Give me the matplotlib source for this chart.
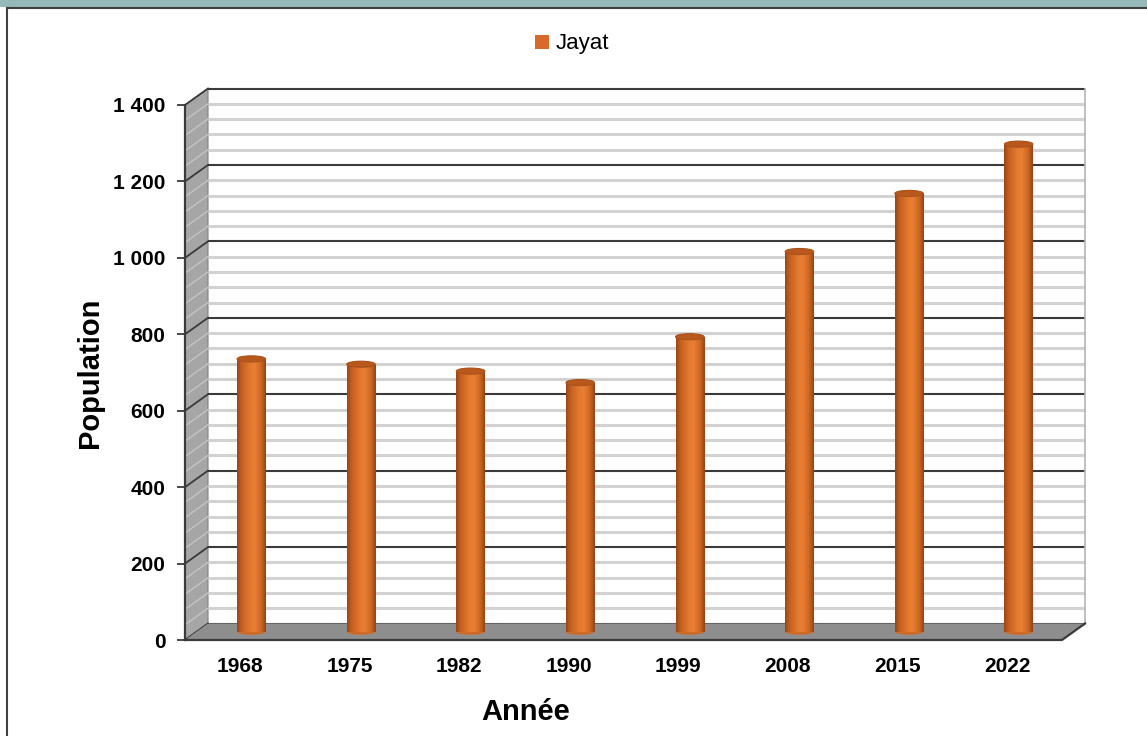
import numpy as np
import matplotlib.pyplot as plt
import matplotlib.transforms as mtrans
from matplotlib.patches import Polygon, Ellipse, Rectangle, Patch
from matplotlib.colors import LinearSegmentedColormap
from matplotlib.lines import Line2D

plt.rcParams['font.family'] = ['Liberation Sans', 'DejaVu Sans']

# data
years = ['1968', '1975', '1982', '1990', '1999', '2008', '2015', '2022']
population = [714, 700, 682, 652, 772, 995, 1147, 1276]
series_name = 'Jayat'
y_ticks = [0, 200, 400, 600, 800, 1000, 1200, 1400]
y_tick_labels = ['0', '200', '400', '600', '800', '1 000', '1 200', '1 400']

W, H = 1147, 736
fig = plt.figure(figsize=(W / 100, H / 100), dpi=100)
ax = fig.add_axes([185 / W, 96 / H, 877 / W, 535 / H])
ax.set_facecolor('none')

# depth of the fake 3D box (pixels -> data units)
depth_px = (23, 16.5)
DX = depth_px[0] / (877 / len(years))
DY = depth_px[1] / (535 / 1400)
x0, x1 = -0.5, len(years) - 0.5

# back wall and its grid
ax.add_patch(Polygon([(x0 + DX, DY), (x1 + DX, DY), (x1 + DX, 1400 + DY), (x0 + DX, 1400 + DY)],
                     closed=True, fc='white', ec='none', zorder=0.5, clip_on=False))
# left side wall
ax.add_patch(Polygon([(x0, 0), (x0, 1400), (x0 + DX, 1400 + DY), (x0 + DX, DY)],
                     closed=True, fc='#a6a6a6', ec='#808080', lw=0.8, zorder=0.6, clip_on=False))
for v in np.arange(0, 1401, 40):
    major = v % 200 == 0
    col = '#3a3a3a' if major else '#d2d2d2'
    lw = 1.5 if major else 2.2
    ax.plot([x0 + DX, x1 + DX], [v + DY, v + DY], color=col, lw=lw, zorder=1.5 if major else 1,
            clip_on=False, solid_capstyle='butt')
    ax.plot([x0, x0 + DX], [v, v + DY], color='#3a3a3a' if major else '#c4c4c4',
            lw=1.3 if major else 1.0, zorder=1.6, clip_on=False)
ax.plot([x1 + DX, x1 + DX], [DY, 1400 + DY], color='#b5b5b5', lw=1.2, zorder=1.7, clip_on=False)

# floor
ax.add_patch(Polygon([(x0, 0), (x1, 0), (x1 + DX, DY), (x0 + DX, DY)],
                     closed=True, fc='#8e8e8e', ec='none', zorder=3, clip_on=False))
ax.plot([x0, x1, x1 + DX], [0, 0, DY], color='#3a3a3a', lw=1.6, zorder=3.5, clip_on=False)

# cylinders, placed in the middle of the depth
trans = ax.transData + mtrans.ScaledTranslation(depth_px[0] / 200, depth_px[1] / 200,
                                                fig.dpi_scale_trans)
cyl_cmap = LinearSegmentedColormap.from_list('cyl', [
    (0.0, '#984516'), (0.15, '#c25f1f'), (0.45, '#e4792f'),
    (0.62, '#e97e35'), (0.85, '#c9641f'), (1.0, '#91431a')])
grad = np.linspace(0, 1, 256).reshape(1, -1)
bar_w = 0.26
xs = np.arange(len(years))
bars = ax.bar(xs, population, width=bar_w, transform=trans, color='none', zorder=6)
for x, v, b in zip(xs, population, bars):
    ax.add_patch(Ellipse((x, 0), bar_w, 16, transform=trans, fc='#cf6a26', ec='none', zorder=5.5))
    im = ax.imshow(grad, cmap=cyl_cmap, extent=[x - bar_w / 2, x + bar_w / 2, 0, v],
                   transform=trans, aspect='auto', zorder=6, interpolation='bilinear')
    im.set_clip_path(b)
    ax.add_patch(Ellipse((x, v), bar_w, 16, transform=trans, fc='#b9581c', ec='#a9521c',
                         lw=0.8, zorder=7))

ax.set_xlim(x0, x1)
ax.set_ylim(0, 1400)

# axes, ticks
for s in ['top', 'right', 'bottom']:
    ax.spines[s].set_visible(False)
ax.spines['left'].set_color('#3a3a3a')
ax.spines['left'].set_linewidth(1.6)
ax.spines['left'].set_zorder(4)
ax.set_xticks(xs, years, fontsize=15, fontweight='bold')
ax.set_yticks(y_ticks, y_tick_labels, fontsize=15, fontweight='bold')
ax.tick_params(axis='x', length=0, pad=12)
ax.tick_params(axis='y', length=6, width=1.3, color='#3a3a3a', pad=8)

fig.text(526 / W, 1 - 712 / H, 'Année', ha='center', va='center', fontsize=21, fontweight='bold')
fig.text(90 / W, 1 - 373 / H, 'Population', ha='center', va='center', rotation=90,
         fontsize=21, fontweight='bold')

fig.legend(handles=[Patch(fc='#d8692a', ec='none')], labels=[series_name], loc='center',
           bbox_to_anchor=(572 / W, 1 - 44 / H), frameon=False, fontsize=16,
           handlelength=0.6, handleheight=0.6, handletextpad=0.3)

# outer frame
fig.add_artist(Rectangle((0, 1 - 7 / H), 1, 7 / H, transform=fig.transFigure,
                         fc='#95b8ba', ec='none'))
fig.add_artist(Line2D([7.5 / W, 1], [1 - 8 / H, 1 - 8 / H], transform=fig.transFigure,
                      color='#404040', lw=1.5))
fig.add_artist(Line2D([7.5 / W, 7.5 / W], [0, 1 - 8 / H], transform=fig.transFigure,
                      color='#404040', lw=1.5))

fig.savefig('out.png', dpi=100)
